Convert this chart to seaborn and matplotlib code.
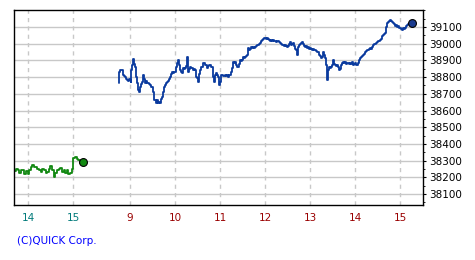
import matplotlib
matplotlib.use("Agg")
import matplotlib.pyplot as plt
import seaborn as sns
import pandas as pd
import numpy as np
from matplotlib.ticker import MultipleLocator

# ---- data (times in hours, values in index points) ----
prev_times = [13.72, 13.74, 13.78, 13.81, 13.85, 13.88, 13.92, 13.96, 13.99, 14.03,
              14.07, 14.10, 14.14, 14.17, 14.21, 14.25, 14.28, 14.32, 14.35, 14.39,
              14.43, 14.46, 14.50, 14.54, 14.57, 14.61, 14.65, 14.68, 14.72, 14.75,
              14.79, 14.83, 14.86, 14.90, 14.93, 14.97, 15.01, 15.04, 15.08, 15.12,
              15.15, 15.19, 15.22]
prev_values = [38240, 38248, 38243, 38227, 38243, 38243, 38219, 38237, 38219, 38243,
               38260, 38274, 38263, 38260, 38248, 38243, 38233, 38248, 38243, 38223,
               38233, 38248, 38266, 38243, 38202, 38227, 38243, 38248, 38254, 38233,
               38243, 38227, 38243, 38219, 38227, 38248, 38315, 38321, 38309, 38304,
               38288, 38294, 38294]

cur_times = [8.75, 8.76, 8.78, 8.80, 8.82, 8.84, 8.87, 8.89, 8.91, 8.93, 8.96, 8.98,
             9.00, 9.02, 9.03, 9.05, 9.07, 9.09, 9.11, 9.13, 9.16, 9.18, 9.20, 9.22,
             9.24, 9.27, 9.29, 9.31, 9.33, 9.36, 9.38, 9.40, 9.42, 9.44, 9.47, 9.49,
             9.51, 9.53, 9.56, 9.58, 9.60, 9.62, 9.64, 9.67, 9.69, 9.71, 9.73, 9.76,
             9.78, 9.80, 9.82, 9.84, 9.87, 9.89, 9.91, 9.93, 9.96, 9.98, 10.00, 10.02,
             10.04, 10.07, 10.09, 10.11, 10.13, 10.16, 10.18, 10.20, 10.22, 10.24, 10.27, 10.29,
             10.31, 10.33, 10.36, 10.38, 10.40, 10.42, 10.44, 10.47, 10.49, 10.51, 10.53, 10.56,
             10.58, 10.60, 10.62, 10.67, 10.71, 10.73, 10.76, 10.78, 10.80, 10.82, 10.84, 10.87,
             10.89, 10.91, 10.93, 10.96, 10.98, 11.00, 11.02, 11.04, 11.07, 11.11, 11.13, 11.16,
             11.18, 11.20, 11.24, 11.27, 11.29, 11.31, 11.33, 11.36, 11.38, 11.40, 11.42, 11.44,
             11.47, 11.49, 11.51, 11.53, 11.56, 11.58, 11.60, 11.62, 11.64, 11.67, 11.69, 11.71,
             11.73, 11.76, 11.78, 11.80, 11.82, 11.84, 11.87, 11.89, 11.91, 11.93, 11.96, 11.98,
             12.00, 12.02, 12.04, 12.07, 12.09, 12.11, 12.13, 12.16, 12.18, 12.20, 12.22, 12.24,
             12.27, 12.29, 12.31, 12.33, 12.36, 12.38, 12.40, 12.42, 12.44, 12.47, 12.49, 12.51,
             12.53, 12.56, 12.58, 12.60, 12.62, 12.64, 12.67, 12.69, 12.71, 12.73, 12.76, 12.78,
             12.80, 12.82, 12.84, 12.87, 12.89, 12.91, 12.93, 12.96, 12.98, 13.00, 13.02, 13.04,
             13.07, 13.09, 13.11, 13.13, 13.16, 13.18, 13.20, 13.22, 13.24, 13.27, 13.29, 13.31,
             13.33, 13.36, 13.38, 13.40, 13.42, 13.44, 13.47, 13.49, 13.51, 13.53, 13.56, 13.58,
             13.60, 13.62, 13.64, 13.67, 13.69, 13.71, 13.73, 13.76, 13.78, 13.80, 13.82, 13.84,
             13.87, 13.89, 13.91, 13.93, 13.96, 13.98, 14.00, 14.02, 14.04, 14.07, 14.09, 14.11,
             14.13, 14.16, 14.18, 14.20, 14.22, 14.24, 14.27, 14.29, 14.31, 14.33, 14.36, 14.38,
             14.40, 14.42, 14.44, 14.47, 14.49, 14.51, 14.53, 14.56, 14.58, 14.60, 14.62, 14.64,
             14.67, 14.69, 14.71, 14.73, 14.76, 14.78, 14.80, 14.82, 14.84, 14.87, 14.89, 14.91,
             14.93, 14.96, 14.98, 15.00, 15.02, 15.04, 15.07, 15.09, 15.11, 15.13, 15.16, 15.18,
             15.20, 15.22, 15.24, 15.27]
cur_values = [38765, 38830, 38842, 38842, 38842, 38812, 38806, 38800, 38790, 38782, 38776, 38790,
              38782, 38770, 38842, 38872, 38908, 38880, 38860, 38800, 38765, 38723, 38711, 38741,
              38760, 38770, 38812, 38790, 38765, 38776, 38765, 38765, 38760, 38753, 38741, 38741,
              38711, 38663, 38663, 38645, 38663, 38645, 38650, 38645, 38670, 38681, 38711, 38741,
              38753, 38765, 38770, 38776, 38790, 38800, 38820, 38830, 38824, 38830, 38830, 38860,
              38884, 38902, 38870, 38842, 38830, 38824, 38854, 38850, 38854, 38865, 38920, 38830,
              38850, 38860, 38854, 38854, 38842, 38850, 38842, 38800, 38794, 38770, 38820, 38842,
              38860, 38860, 38884, 38870, 38854, 38865, 38872, 38872, 38860, 38860, 38800, 38770,
              38810, 38824, 38810, 38800, 38753, 38770, 38812, 38812, 38806, 38812, 38806, 38812,
              38800, 38812, 38830, 38854, 38890, 38884, 38890, 38870, 38860, 38860, 38880, 38902,
              38896, 38902, 38920, 38914, 38920, 38925, 38932, 38974, 38962, 38968, 38980, 38974,
              38980, 38974, 38980, 38985, 38992, 38992, 38998, 39004, 39016, 39022, 39028, 39034,
              39034, 39028, 39034, 39030, 39022, 39016, 39022, 39016, 39022, 39016, 39016, 39010,
              39016, 39016, 39010, 39004, 38998, 38992, 38992, 38986, 38992, 38986, 38980, 38986,
              38998, 39010, 38990, 38998, 39004, 38986, 38970, 38960, 38932, 38980, 38992, 38998,
              39004, 39010, 38998, 38986, 38980, 38986, 38974, 38980, 38970, 38974, 38968, 38962,
              38968, 38962, 38962, 38956, 38950, 38950, 38932, 38925, 38914, 38920, 38950, 38932,
              38914, 38870, 38782, 38840, 38860, 38854, 38860, 38870, 38902, 38880, 38872, 38865,
              38872, 38860, 38842, 38850, 38870, 38884, 38890, 38884, 38890, 38878, 38884, 38884,
              38878, 38884, 38878, 38890, 38872, 38878, 38884, 38872, 38872, 38884, 38902, 38914,
              38920, 38925, 38932, 38938, 38950, 38956, 38962, 38962, 38968, 38974, 38968, 38980,
              38992, 38998, 38998, 39004, 39010, 39016, 39016, 39022, 39028, 39046, 39052, 39058,
              39064, 39100, 39124, 39130, 39136, 39142, 39136, 39130, 39124, 39118, 39106, 39112,
              39100, 39106, 39094, 39094, 39088, 39082, 39094, 39088, 39094, 39106, 39112, 39118,
              39118, 39124, 39118, 39124]

prev_hour_labels = ["14", "15"]
prev_hour_ticks = [14, 15]
cur_hour_labels = ["9", "10", "11", "12", "13", "14", "15"]
cur_hour_ticks = [9, 10, 11, 12, 13, 14, 15]
y_ticks = [38100, 38200, 38300, 38400, 38500, 38600, 38700, 38800, 38900, 39000, 39100]

# previous session is drawn shifted onto the same time axis
PREV_SHIFT = 7.267

prev_df = pd.DataFrame({"t": np.array(prev_times) - PREV_SHIFT, "v": prev_values})
cur_df = pd.DataFrame({"t": cur_times, "v": cur_values})

sns.set_theme(style="white")
plt.rcParams["font.family"] = ["DejaVu Sans"]

fig = plt.figure(figsize=(4.75, 2.6), dpi=100)
ax = fig.add_axes([14 / 475, 55 / 260, 409 / 475, 195 / 260])

ax.set_xlim(6.422, 15.511)
ax.set_ylim(38034, 39202)

# grid
for y in y_ticks:
    ax.axhline(y, color="#c8c8c8", lw=1.0, zorder=0)
xt = [t - PREV_SHIFT for t in prev_hour_ticks] + cur_hour_ticks
for x in xt:
    ax.axvline(x, color="#c8c8c8", lw=1.0, ls=(0, (3, 3)), zorder=0)

sns.lineplot(data=prev_df, x="t", y="v", ax=ax, color="#118811", lw=1.3,
             estimator=None, sort=False, drawstyle="steps-post")
sns.lineplot(data=cur_df, x="t", y="v", ax=ax, color="#0a3a9e", lw=1.3,
             estimator=None, sort=False, drawstyle="steps-post")
sns.scatterplot(x=[prev_df["t"].iloc[-1]], y=[prev_df["v"].iloc[-1]], ax=ax,
                color="#118811", edgecolor="black", linewidth=0.8, s=32, zorder=5)
sns.scatterplot(x=[cur_df["t"].iloc[-1]], y=[cur_df["v"].iloc[-1]], ax=ax,
                color="#1a3a8e", edgecolor="black", linewidth=0.8, s=32, zorder=5)

# spines
for s in ax.spines.values():
    s.set_visible(True)
    s.set_color("black")
    s.set_linewidth(1.0)

# x ticks
ax.set_xticks(xt)
ax.set_xticklabels(prev_hour_labels + cur_hour_labels, fontsize=7.5)
colors = ["#007a7a"] * len(prev_hour_labels) + ["#990000"] * len(cur_hour_labels)
for lab, c in zip(ax.get_xticklabels(), colors):
    lab.set_color(c)
ax.tick_params(axis="x", length=0, pad=6)

# y ticks on right
ax.yaxis.tick_right()
ax.set_yticks(y_ticks)
ax.set_yticklabels([str(v) for v in y_ticks], fontsize=7.5, color="black")
ax.yaxis.set_minor_locator(MultipleLocator(50))
ax.tick_params(axis="y", which="major", direction="out", length=2.5, width=0.8,
               color="black", pad=2, right=True, left=False)
ax.tick_params(axis="y", which="minor", direction="out", length=1.5, width=0.6,
               color="black", right=True, left=False)

ax.set_xlabel("")
ax.set_ylabel("")
ax.grid(False)

fig.text(17 / 475, 1 - 241 / 260, "(C)QUICK Corp.", color="#0000ff", fontsize=7.5,
         va="center", ha="left")

fig.savefig("out.png", dpi=100, facecolor="white")
